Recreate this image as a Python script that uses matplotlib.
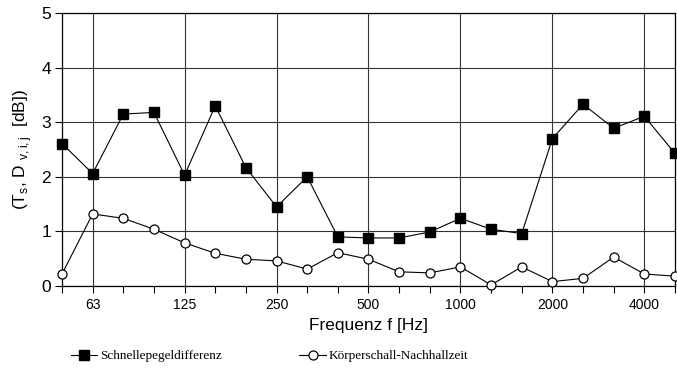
import matplotlib.pyplot as plt
import numpy as np

freqs = [50, 63, 80, 100, 125, 160, 200, 250, 315, 400, 500, 630, 800,
         1000, 1250, 1600, 2000, 2500, 3150, 4000, 5000]
tick_labels = ["63", "125", "250", "500", "1000", "2000", "4000"]

schnelle = [2.61, 2.06, 3.15, 3.18, 2.03, 3.30, 2.17, 1.45, 2.00, 0.90, 0.88,
            0.88, 0.99, 1.24, 1.04, 0.96, 2.70, 3.33, 2.89, 3.11, 2.43]
nachhall = [0.22, 1.32, 1.24, 1.04, 0.79, 0.60, 0.49, 0.46, 0.31, 0.61, 0.49,
            0.26, 0.24, 0.35, 0.02, 0.35, 0.08, 0.14, 0.53, 0.22, 0.18]

x = np.arange(len(freqs))
major = [freqs.index(int(t)) for t in tick_labels]

plt.rcParams['font.family'] = ['Liberation Sans', 'DejaVu Sans']

fig = plt.figure(figsize=(6.77, 3.74), dpi=100)
ax = fig.add_axes([0.0916, 0.2353, 0.9054, 0.7297])

ax.plot(x, schnelle, color='black', lw=0.8, marker='s', ms=6.5,
        mfc='black', mec='black', label='Schnellepegeldifferenz', clip_on=False, zorder=3)
ax.plot(x, nachhall, color='black', lw=0.8, marker='o', ms=6.5,
        mfc='white', mec='black', mew=0.9, label='Körperschall-Nachhallzeit',
        clip_on=False, zorder=3)

ax.set_xlim(0, len(freqs) - 1)
ax.set_ylim(0, 5)
ax.set_xticks(major, tick_labels)
ax.set_xticks(x, minor=True)
ax.set_yticks(range(6))
ax.tick_params(axis='x', which='both', direction='out', length=5, width=0.8,
               labelsize=10, pad=4)
ax.tick_params(axis='y', direction='out', length=5, width=0.8, labelsize=12.5, pad=3)
ax.grid(True, which='major', color='#333333', lw=0.8)

for s in ax.spines.values():
    s.set_linewidth(0.9)

ax.set_xlabel("Frequenz f [Hz]", fontsize=12.5, labelpad=4)
ax.set_ylabel(r"(T$_\mathregular{s}$, D $_\mathregular{v,i,j}$  [dB])", fontsize=12.5, labelpad=5)

fig.legend(loc='lower left', bbox_to_anchor=(0.087, 0.0), ncol=2, frameon=False,
           handlelength=2.0, handletextpad=0.2, columnspacing=5.9,
           prop={'family': 'Liberation Serif', 'size': 9.5})

fig.savefig("out.png", dpi=100)
